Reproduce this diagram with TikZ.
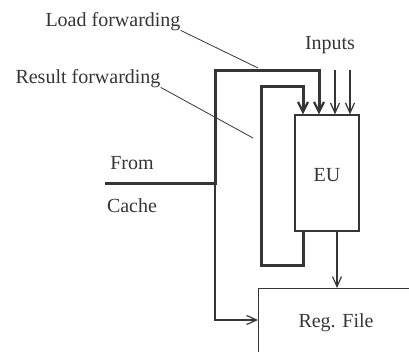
\documentclass[tikz,border=0pt]{standalone}
\usepackage{fontspec}
\setmainfont{Liberation Serif}
\usetikzlibrary{arrows.meta}
\definecolor{ink}{HTML}{353535}
\begin{document}
\begin{tikzpicture}[x=1pt,y=-1pt,
  lbl/.style={font=\fontsize{20}{22}\selectfont, text=ink, inner sep=0pt},
  thickl/.style={draw=ink, line width=3pt},
  thinl/.style={draw=ink, line width=1.2pt},
  leader/.style={draw=ink, line width=0.8pt},
  bigtip/.style={-{Straight Barb[length=10pt,width=10pt,line width=2.2pt]}},
  smalltip/.style={-{Straight Barb[length=10pt,width=9pt,line width=1.2pt]}},
  box/.style={draw=ink, line width=1.2pt, inner sep=0pt}]
\useasboundingbox (0,0) rectangle (409,352);
\clip (0,0) rectangle (409,352);
% boxes
\node[box, minimum width=64pt, minimum height=116pt] (eu) at (327,173) {};
\node[lbl] (eul) at (327,175) {EU};
\node[box, minimum width=200pt, minimum height=100pt, anchor=north west] (rf) at (258,288) {};
\node[lbl] (rfl) at (336,323) {Reg. File};
% labels
\node[lbl] (lfl) at (113,22) {Load forwarding};
\node[lbl] (rfwl) at (88,79) {Result forwarding};
\node[lbl] (froml) at (132,163) {From};
\node[lbl] (cachel) at (132,206) {Cache};
\node[lbl] (inl) at (330,45) {Inputs};
% coordinates
\coordinate (cin) at (105,184);
\coordinate (junc) at (215,184);
\coordinate (ltop) at (319,71);
\coordinate (jdown) at (215,320);
\coordinate (rbot) at (303,266);
\coordinate (rleft) at (261,87);
\coordinate (in1) at (335,70);
\coordinate (in2) at (350,70);
\coordinate (outx) at (337,231);
\coordinate (lfend) at (258,68);
\coordinate (rfend) at (253,138);
% load forwarding
\draw[thickl, bigtip] (cin) -- (junc) |- (ltop) -- (ltop |- eu.north);
\draw[thinl, smalltip] (junc) -- (jdown) -- (jdown -| rf.west);
% result forwarding
\draw[thickl, bigtip] (rbot |- eu.south) -- (rbot) -| (rleft) -| (rbot |- eu.north);
% inputs
\draw[thinl, smalltip] (in1) -- (in1 |- eu.north);
\draw[thinl, smalltip] (in2) -- (in2 |- eu.north);
% output
\draw[thinl, smalltip] (outx |- eu.south) -- (outx |- rf.north);
% leaders
\draw[leader] (lfl.south east) ++(0,-1) -- (lfend);
\draw[leader] (rfwl.south east) ++(0,-1) -- (rfend);
\end{tikzpicture}
\end{document}
